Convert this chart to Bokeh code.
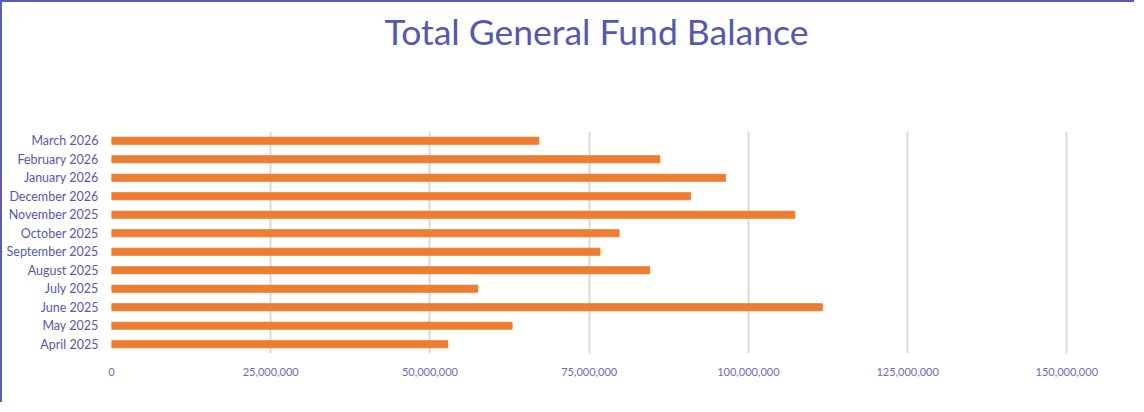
from bokeh.plotting import figure
from bokeh.models import NumeralTickFormatter, FixedTicker, Range1d, Title
from bokeh.embed import file_html
from bokeh.resources import INLINE

months = ["April 2025", "May 2025", "June 2025", "July 2025", "August 2025",
          "September 2025", "October 2025", "November 2025", "December 2026",
          "January 2026", "February 2026", "March 2026"]
balances = [52.8e6, 62.9e6, 111.6e6, 57.5e6, 84.5e6, 76.7e6, 79.7e6,
            107.3e6, 90.9e6, 96.4e6, 86.1e6, 67.1e6]
x_ticks = [0, 25e6, 50e6, 75e6, 100e6, 125e6, 150e6]
title_text = "Total General Fund Balance"

PURPLE = "#5558ad"
ORANGE = "#ed7d31"

p = figure(y_range=months, x_range=Range1d(0, 160e6), title=None,
           width=1134, height=402, output_backend="svg", toolbar_location=None,
           min_border_left=109, min_border_right=6, min_border_top=129,
           min_border_bottom=51)
p.styles = {"border-left": "2px solid #5a5db0", "border-top": "2px solid #5a5db0"}

p.hbar(y=months, right=balances, left=0, height=0.38, color=ORANGE)

p.outline_line_color = None
p.background_fill_color = "white"
p.border_fill_color = "white"

p.xgrid.grid_line_color = "#d9d9d9"
p.xgrid.grid_line_width = 2
p.ygrid.grid_line_color = None

p.xaxis.ticker = FixedTicker(ticks=x_ticks)
p.xaxis.formatter = NumeralTickFormatter(format="0,0")
p.xaxis.axis_line_color = None
p.xaxis.major_tick_line_color = None
p.xaxis.major_tick_out = 0
p.xaxis.major_tick_in = 0
p.xaxis.minor_tick_line_color = None
p.xaxis.major_label_text_color = "#6b6bbb"
p.xaxis.major_label_text_font = "Lato"
p.xaxis.major_label_text_font_size = "11px"
p.xaxis.major_label_standoff = 14

p.yaxis.axis_line_color = None
p.yaxis.major_tick_line_color = None
p.yaxis.major_tick_out = 0
p.yaxis.major_tick_in = 0
p.yaxis.major_label_text_color = PURPLE
p.yaxis.major_label_text_font = "Lato"
p.yaxis.major_label_text_font_size = "12.5px"
p.yaxis.major_label_standoff = 13

spacer = Title(text=" ", text_font_size="1px", standoff=76)
p.add_layout(spacer, "above")
title = Title(text=title_text, align="left", offset=273, standoff=0,
              vertical_align="bottom", text_color=PURPLE, text_font="Lato",
              text_font_style="normal", text_font_size="35.5px")
p.add_layout(title, "above")

open("out.html", "w").write(file_html(p, INLINE))
